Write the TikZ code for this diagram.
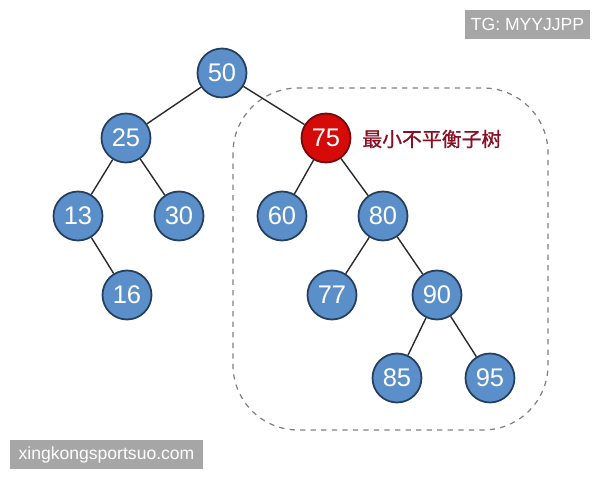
\documentclass[tikz,border=0pt]{standalone}
\usepackage{fontspec}
\setmainfont{Liberation Sans}
\newfontfamily\cjk[FakeBold=1]{Noto Sans CJK SC}
\definecolor{nodeblue}{HTML}{5B8FC9}
\definecolor{nodeedge}{HTML}{253F5E}
\definecolor{nodered}{HTML}{D70A0A}
\definecolor{rededge}{HTML}{6E0A0A}
\definecolor{labelred}{HTML}{8A0F22}
\definecolor{wmgray}{HTML}{A6A6A6}
\definecolor{edgegray}{HTML}{2A2A2A}
\begin{document}
\begin{tikzpicture}[x=0.02cm,y=-0.02cm,
  tn/.style={circle,draw=nodeedge,line width=1pt,fill=nodeblue,minimum size=0.98cm,inner sep=0pt,text=white,font=\fontsize{14.5}{14.5}\selectfont},
  rn/.style={tn,fill=nodered,draw=rededge},
  conn/.style={draw=edgegray,line width=0.8pt},
  wm/.style={fill=wmgray,text=white,inner sep=0pt,font=\fontsize{10}{10}\selectfont}]
\useasboundingbox (0,0) rectangle (600,480);
\fill[white] (0,0) rectangle (600,480);
\draw[dashed,gray,line width=0.7pt,rounded corners=1.3cm] (233,88) rectangle (548,430);
\node[tn] (n50) at (222,73) {50};
\node[tn] (n25) at (126,138) {25};
\node[rn] (n75) at (326,138) {75};
\node[tn] (n13) at (78,216) {13};
\node[tn] (n30) at (179,216) {30};
\node[tn] (n60) at (282,216) {60};
\node[tn] (n80) at (383,216) {80};
\node[tn] (n16) at (127,295) {16};
\node[tn] (n77) at (332,295) {77};
\node[tn] (n90) at (437,295) {90};
\node[tn] (n85) at (397,378) {85};
\node[tn] (n95) at (490,378) {95};
\node[text=labelred,anchor=west,inner sep=0pt,font=\cjk\fontsize{11.3}{11.3}\selectfont] (lab) at (362,139) {最小不平衡子树};
\draw[conn] (n50) -- (n25);
\draw[conn] (n50) -- (n75);
\draw[conn] (n25) -- (n13);
\draw[conn] (n25) -- (n30);
\draw[conn] (n13) -- (n16);
\draw[conn] (n75) -- (n60);
\draw[conn] (n75) -- (n80);
\draw[conn] (n80) -- (n77);
\draw[conn] (n80) -- (n90);
\draw[conn] (n90) -- (n85);
\draw[conn] (n90) -- (n95);
\node[wm,minimum width=2.5cm,minimum height=0.58cm] (tg) at (527.5,24.5) {TG: MYYJJPP};
\node[wm,minimum width=3.86cm,minimum height=0.58cm] (site) at (106.5,454.5) {xingkongsportsuo.com};
\end{tikzpicture}
\end{document}
